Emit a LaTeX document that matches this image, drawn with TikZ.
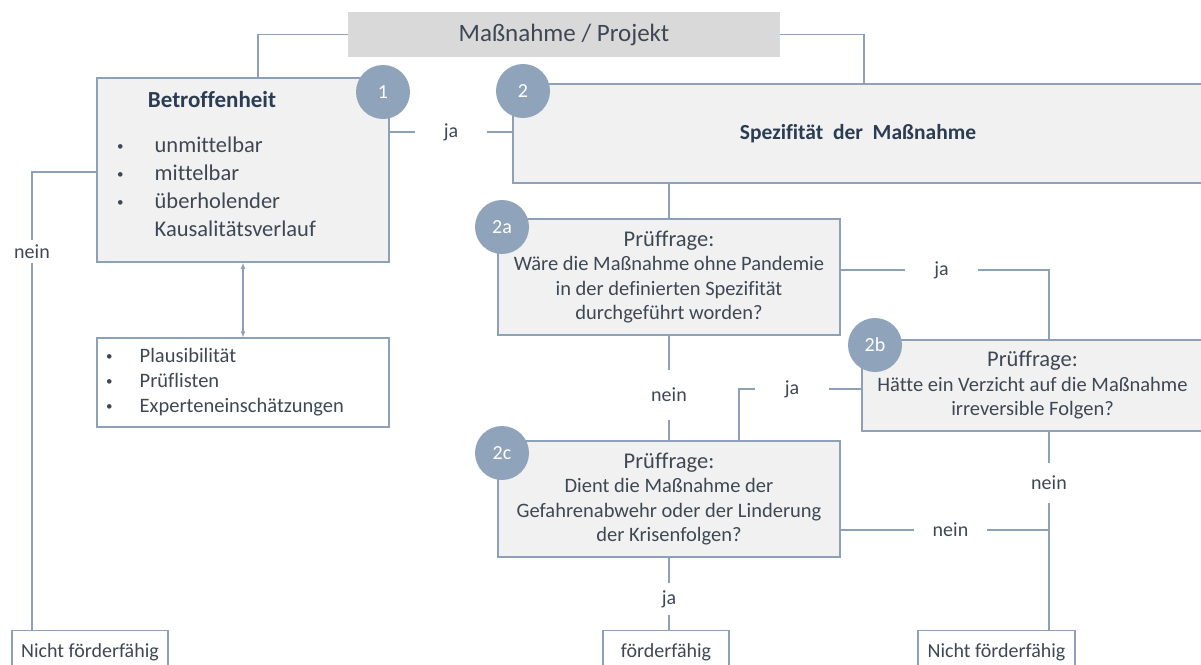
\documentclass[tikz,border=0pt]{standalone}
\usepackage{fontspec}
\setmainfont{Carlito}[Ligatures=NoCommon]
\usepackage{tikz}
\usetikzlibrary{arrows.meta, positioning, calc}
\usepackage{xcolor}

\definecolor{linienblau}{RGB}{140,161,183}
\definecolor{kreisblau}{RGB}{143,163,186}
\definecolor{kastengrau}{RGB}{241,241,241}
\definecolor{kopfgrau}{RGB}{217,217,217}
\definecolor{textgrau}{RGB}{62,72,84}
\definecolor{titelblau}{RGB}{44,60,82}

\newcommand{\punkt}{\raisebox{1.5pt}{\fontsize{13}{13}\selectfont•}}

\tikzset{
    kasten/.style={rectangle, draw=linienblau, fill=kastengrau, line width=1.6pt, inner sep=0pt},
    frage/.style={kasten, minimum width=342pt, minimum height=116pt, align=center, text=textgrau, font=\fontsize{20.5}{24.5}\selectfont},
    nummer/.style={circle, fill=kreisblau, minimum size=54pt, inner sep=0pt, text=white, font=\fontsize{20}{20}\selectfont},
    linie/.style={draw=linienblau, line width=1.6pt},
    lbl/.style={inner sep=0pt, text=textgrau, font=\fontsize{20}{24}\selectfont},
    ende/.style={rectangle, draw=linienblau, line width=1.2pt, fill=white, anchor=north, minimum height=44pt, text=textgrau, font=\fontsize{20}{24}\selectfont}
}

\begin{document}
\begin{tikzpicture}[x=1pt, y=-1pt]
    \useasboundingbox[fill=white] (0,0) rectangle (1201,664);

    % Kopf: Massnahme / Projekt
    \node[fill=kopfgrau, minimum width=432pt, minimum height=45pt, text=textgrau, font=\fontsize{25}{29}\selectfont] (proj) at (564,34.5) {Maßnahme / Projekt};

    % Schritt 1: Betroffenheit
    \node[kasten, minimum width=292pt, minimum height=184pt] (betr) at (243,170) {};
    \node[text=titelblau, font=\bfseries\fontsize{23}{27}\selectfont] (betrtitel) at (212,100) {Betroffenheit};
    \node[anchor=base west, inner sep=0pt, text=textgrau, font=\fontsize{22.5}{28}\selectfont] (betrliste) at (117,152)
    {\begin{tabular}[t]{@{}l@{\hspace{31pt}}l@{}}
        \punkt & unmittelbar\\
        \punkt & mittelbar\\
        \punkt & überholender\\
               & Kausalitätsverlauf
    \end{tabular}};

    % Hilfsmittel unter Schritt 1
    \node[rectangle, draw=linienblau, line width=1.2pt, fill=white, minimum width=292pt, minimum height=89pt] (hilfe) at (243,382.5) {};
    \node[anchor=base west, inner sep=0pt, text=textgrau, font=\fontsize{20.5}{25}\selectfont] (hilfeliste) at (106,362)
    {\begin{tabular}[t]{@{}l@{\hspace{27pt}}l@{}}
        \punkt & Plausibilität\\
        \punkt & Prüflisten\\
        \punkt & Experteneinschätzungen
    \end{tabular}};

    % Schritt 2: Spezifitaet
    \node[kasten, minimum width=690pt, minimum height=99pt, text=titelblau, font=\bfseries\fontsize{21.5}{26}\selectfont] (spez) at (858,133.5) {Spezifität~ der~ Maßnahme};

    % Pruefragen 2a, 2b, 2c
    \node[frage] (frage2a) at (669,277) {{\fontsize{22.5}{26}\selectfont Prüffrage:}\\Wäre die Maßnahme ohne Pandemie\\in der definierten Spezifität\\durchgeführt worden?};
    \node[frage, minimum width=341pt, minimum height=91pt] (frage2b) at (1032.5,385.5) {{\fontsize{22.5}{26}\selectfont Prüffrage:}\\Hätte ein Verzicht auf die Maßnahme\\irreversible Folgen?};
    \node[frage] (frage2c) at (669,499) {{\fontsize{22.5}{26}\selectfont Prüffrage:}\\Dient die Maßnahme der\\Gefahrenabwehr oder der Linderung\\der Krisenfolgen?};

    % Nummern
    \node[nummer] (nr1) at (383,92) {1};
    \node[nummer] (nr2) at (523,91) {2};
    \node[nummer] (nr2a) at (502,227) {2a};
    \node[nummer] (nr2b) at (875,345) {2b};
    \node[nummer] (nr2c) at (502,453) {2c};

    % Ergebnisse
    \node[ende, minimum width=156pt] (nicht1) at (90,630) {Nicht förderfähig};
    \node[ende, minimum width=126pt] (foerder) at (666,630) {förderfähig};
    \node[ende, minimum width=157pt] (nicht2) at (996.5,630) {Nicht förderfähig};

    % Beschriftungen der Verbindungen
    \node[lbl, minimum width=72pt] (ja1) at (451,132) {ja};
    \node[lbl, minimum width=73pt] (ja2) at (941.5,270) {ja};
    \node[lbl, minimum width=74pt] (ja3) at (792,389) {ja};
    \node[lbl, minimum height=32pt] (ja4) at (669,599) {ja};
    \node[lbl, minimum height=23pt] (nein1) at (32,251.5) {nein};
    \node[lbl, minimum height=49pt] (nein2) at (669,395) {nein};
    \node[lbl, minimum height=39pt] (nein3) at (1049,483) {nein};
    \node[lbl, minimum width=73pt] (nein4) at (950.5,530) {nein};

    % Knickpunkte
    \coordinate (knick1) at (258,0);
    \coordinate (knick2) at (864,0);
    \coordinate (knicklinks) at (32,172);
    \coordinate (spalte2b) at (1049,0);
    \coordinate (knick2c) at (739,0);

    % Verbindungen vom Kopf
    \draw[linie] (proj.west) -| (knick1 |- betr.north);
    \draw[linie] (proj.east) -| (knick2 |- spez.north);

    % Schritt 1 -> ja / nein
    \draw[linie] (betr.east |- ja1) -- (ja1.west);
    \draw[linie] (ja1.east) -- (spez.west |- ja1);
    \draw[linie] (betr.west |- knicklinks) -- (knicklinks) -- (nein1.north);
    \draw[linie] (nein1.south) -- (nein1.south |- nicht1.north);

    % Schritt 1 <-> Hilfsmittel
    \draw[linie, line width=1.2pt, {Latex[length=6pt,width=5pt]}-{Latex[length=6pt,width=5pt]}] (betr.south) -- (hilfe.north);

    % Schritt 2 -> 2a
    \draw[linie] (spez.south -| frage2a.north) -- (frage2a.north);

    % 2a -> ja -> 2b, 2a -> nein -> 2c
    \draw[linie] (frage2a.east |- ja2) -- (ja2.west);
    \draw[linie] (ja2.east) -| (spalte2b |- frage2b.north);
    \draw[linie] (frage2a.south) -- (nein2.north);
    \draw[linie] (nein2.south) -- (frage2c.north);

    % 2b -> ja -> 2c, 2b -> nein -> nicht foerderfaehig
    \draw[linie] (frage2b.west |- ja3) -- (ja3.east);
    \draw[linie] (ja3.west) -| (knick2c |- frage2c.north);
    \draw[linie] (spalte2b |- frage2b.south) -- (nein3.north);
    \draw[linie] (nein3.south) -- (nein3.south |- nicht2.north);

    % 2c -> ja -> foerderfaehig, 2c -> nein
    \draw[linie] (frage2c.south) -- (ja4.north);
    \draw[linie] (ja4.south) -- (ja4.south |- foerder.north);
    \draw[linie] (frage2c.east |- nein4) -- (nein4.west);
    \draw[linie] (nein4.east) -- (spalte2b |- nein4);
\end{tikzpicture}
\end{document}
